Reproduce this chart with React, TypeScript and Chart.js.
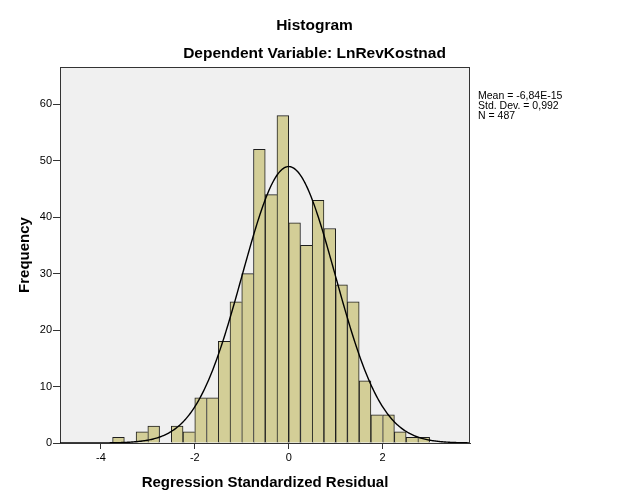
import { useEffect, useRef } from 'react';
import { Chart, registerables } from 'chart.js';

Chart.register(...registerables);

const TITLE = 'Histogram';
const SUBTITLE = 'Dependent Variable: LnRevKostnad';
const X_TITLE = 'Regression Standardized Residual';
const Y_TITLE = 'Frequency';
const STATS = ['Mean = -6,84E-15', 'Std. Dev. = 0,992', 'N = 487'];

const BIN_CENTERS = [
  -3.625, -3.375, -3.125, -2.875, -2.625, -2.375, -2.125, -1.875, -1.625, -1.375,
  -1.125, -0.875, -0.625, -0.375, -0.125, 0.125, 0.375, 0.625, 0.875, 1.125,
  1.375, 1.625, 1.875, 2.125, 2.375, 2.625, 2.875,
];
const COUNTS = [
  1, 0, 2, 3, 0, 3, 2, 8, 8, 18,
  25, 30, 52, 44, 58, 39, 35, 43, 38, 28,
  25, 11, 5, 5, 2, 1, 1,
];

const MEAN = -6.84e-15;
const SD = 0.992;
const N = 487;
const BIN_WIDTH = 0.25;

const X_TICKS = [-4, -2, 0, 2];
const Y_TICKS = [0, 10, 20, 30, 40, 50, 60];
const X_MIN = -4.87;
const X_MAX = 3.86;
const Y_MAX = 66.6;

const FONT = "'Liberation Sans', Arial, sans-serif";

export default function App() {
  const ref = useRef<HTMLCanvasElement | null>(null);

  useEffect(() => {
    document.body.style.margin = '0';
    const canvas = ref.current;
    if (!canvas) return;

    const barData = BIN_CENTERS.map((x, i) => ({ x, y: COUNTS[i] }));
    const curve: { x: number; y: number }[] = [];
    const steps = 400;
    for (let i = 0; i <= steps; i++) {
      const x = X_MIN + ((X_MAX - X_MIN) * i) / steps;
      const z = (x - MEAN) / SD;
      const y = (N * BIN_WIDTH) / (SD * Math.sqrt(2 * Math.PI)) * Math.exp(-0.5 * z * z);
      curve.push({ x, y });
    }

    const framePlugin = {
      id: 'frame',
      beforeDraw(chart: any) {
        const { ctx, chartArea } = chart;
        const { left, top, right, bottom } = chartArea;
        ctx.save();
        ctx.fillStyle = '#FFFFFF';
        ctx.fillRect(0, 0, chart.width, chart.height);
        ctx.fillStyle = '#F0F0F0';
        ctx.fillRect(left, top, right - left, bottom - top);
        ctx.restore();
      },
      afterDatasetsDraw(chart: any) {
        const { ctx, chartArea } = chart;
        const { left, top, right, bottom } = chartArea;
        ctx.save();
        ctx.strokeStyle = '#333333';
        ctx.lineWidth = 1;
        ctx.beginPath();
        ctx.moveTo(Math.round(left), Math.round(top) + 0.5);
        ctx.lineTo(Math.round(right), Math.round(top) + 0.5);
        ctx.moveTo(Math.round(right) - 0.5, Math.round(top));
        ctx.lineTo(Math.round(right) - 0.5, Math.round(bottom) + 1);
        ctx.stroke();
        ctx.fillStyle = '#000000';
        ctx.font = `10.5px ${FONT}`;
        ctx.textAlign = 'left';
        ctx.textBaseline = 'alphabetic';
        STATS.forEach((s, i) => {
          ctx.fillText(s, Math.round(right) + 8, top + 32 + i * 10);
        });
        ctx.restore();
      },
    };

    const chart = new Chart(canvas, {
      type: 'bar',
      data: {
        datasets: [
          {
            type: 'line',
            data: curve,
            borderColor: '#000000',
            borderWidth: 1.4,
            pointRadius: 0,
            fill: false,
            tension: 0,
            order: 0,
          } as any,
          {
            type: 'bar',
            data: barData,
            backgroundColor: '#D3CE97',
            borderColor: '#1E1E1E',
            borderWidth: (c: any) => {
              const i = c.dataIndex;
              const cur = COUNTS[i] ?? 0;
              const next = i + 1 < COUNTS.length ? COUNTS[i + 1] : 0;
              return { left: 1, top: 1, right: next < cur ? 1 : 0, bottom: 0 };
            },
            borderSkipped: false,
            barPercentage: 1,
            categoryPercentage: 1,
            order: 1,
          } as any,
        ],
      },
      options: {
        responsive: false,
        animation: false,
        events: [],
        layout: { padding: 0, autoPadding: false },
        plugins: {
          legend: { display: false },
          tooltip: { enabled: false },
          title: {
            display: true,
            text: TITLE,
            color: '#000000',
            font: { family: FONT, size: 15.5, weight: 'bold' },
            padding: { top: 16, bottom: 0 },
          },
          subtitle: {
            display: true,
            text: SUBTITLE,
            color: '#000000',
            font: { family: FONT, size: 15.5, weight: 'bold' },
            padding: { top: 10.3, bottom: 3.5 },
          },
        },
        scales: {
          x: {
            type: 'linear',
            position: 'bottom',
            min: X_MIN,
            max: X_MAX,
            offset: false,
            afterBuildTicks: (s: any) => {
              s.ticks = X_TICKS.map((v) => ({ value: v }));
            },
            afterFit: (s: any) => {
              s.height = 61;
            },
            grid: {
              display: true,
              offset: false,
              drawOnChartArea: false,
              drawTicks: true,
              tickLength: 6,
              color: '#333333',
              lineWidth: 1,
            },
            border: { display: true, color: '#333333', width: 1 },
            ticks: {
              color: '#000000',
              font: { family: FONT, size: 11 },
              padding: 2,
              maxRotation: 0,
              autoSkip: false,
              callback: (v: any) => String(v),
            },
            title: {
              display: true,
              text: X_TITLE,
              color: '#000000',
              font: { family: FONT, size: 15, weight: 'bold' },
              padding: { top: 12.5, bottom: 12.5 },
            },
          },
          y: {
            type: 'linear',
            position: 'left',
            min: 0,
            max: Y_MAX,
            afterBuildTicks: (s: any) => {
              s.ticks = Y_TICKS.map((v) => ({ value: v }));
            },
            afterFit: (s: any) => {
              s.width = 60;
            },
            grid: {
              display: true,
              offset: false,
              drawOnChartArea: false,
              drawTicks: true,
              tickLength: 7,
              color: '#333333',
              lineWidth: 1,
            },
            border: { display: true, color: '#333333', width: 1 },
            ticks: {
              color: '#000000',
              font: { family: FONT, size: 11 },
              padding: 1,
              autoSkip: false,
              callback: (v: any) => String(v),
            },
            title: {
              display: true,
              text: Y_TITLE,
              color: '#000000',
              font: { family: FONT, size: 15, weight: 'bold' },
              padding: { top: 16, bottom: 0 },
            },
          },
          yR: {
            type: 'linear',
            position: 'right',
            display: true,
            min: 0,
            max: Y_MAX,
            afterFit: (s: any) => {
              s.width = 159;
            },
            grid: { display: false, drawOnChartArea: false, drawTicks: false },
            border: { display: false },
            ticks: { display: false },
          },
        },
      },
      plugins: [framePlugin],
    } as any);

    return () => {
      chart.destroy();
    };
  }, []);

  return (
    <div style={{ width: 629, height: 504 }}>
      <canvas ref={ref} width={629} height={504} style={{ display: 'block', width: 629, height: 504 }} />
    </div>
  );
}
